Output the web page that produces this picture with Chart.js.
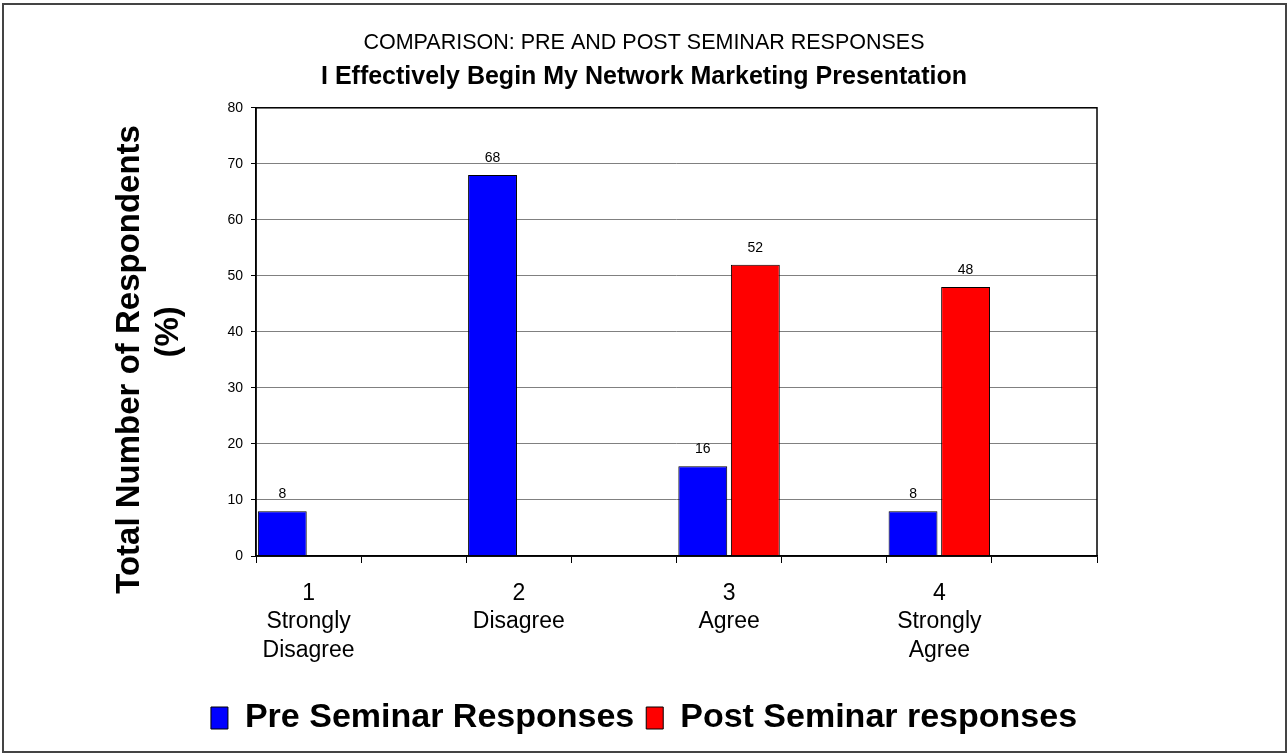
<!DOCTYPE html>
<html>
<head>
<meta charset="utf-8">
<title>Pre and Post Seminar Responses</title>
<script src="https://cdn.jsdelivr.net/npm/chart.js@4.4.0/dist/chart.umd.min.js"></script>
<style>
  html, body { margin: 0; padding: 0; background: #fff; }
  canvas { display: block; }
</style>
</head>
<body>
<canvas id="chart" width="1288" height="755"></canvas>
<script>
const categories = [['1', 'Strongly', 'Disagree'], ['2', 'Disagree'], ['3', 'Agree'], ['4', 'Strongly', 'Agree']];
const preSeminar = [8, 68, 16, 8];
const postSeminar = [0, 0, 52, 48];
const yTicks = [0, 10, 20, 30, 40, 50, 60, 70, 80];

const FONT = 'Arial, "Liberation Sans", sans-serif';
Chart.defaults.font.family = FONT;
Chart.defaults.color = '#000';

// each answer is followed by an empty slot, the bars fill the first one
const labels = [];
const preData = [];
const postData = [];
categories.forEach((c, i) => {
  labels.push(c, '');
  preData.push(preSeminar[i], null);
  postData.push(postSeminar[i], null);
});

// numbers above the bars (zero bars get none)
const valueLabels = {
  id: 'valueLabels',
  afterDatasetsDraw(chart) {
    const ctx = chart.ctx;
    ctx.save();
    ctx.font = '14px ' + FONT;
    ctx.fillStyle = '#000';
    ctx.textAlign = 'center';
    ctx.textBaseline = 'middle';
    chart.data.datasets.forEach((ds, i) => {
      chart.getDatasetMeta(i).data.forEach((bar, j) => {
        const v = ds.data[j];
        if (v) ctx.fillText(v, bar.x, bar.y - 17);
      });
    });
    ctx.restore();
  }
};

// white page, plot frame and the outer border
const frame = {
  id: 'frame',
  beforeDraw(chart) {
    const ctx = chart.ctx;
    ctx.save();
    ctx.fillStyle = '#fff';
    ctx.fillRect(0, 0, chart.width, chart.height);
    ctx.restore();
  },
  afterDraw(chart) {
    const {ctx, chartArea: a} = chart;
    ctx.save();
    ctx.strokeStyle = '#000';
    ctx.lineWidth = 1.5;
    ctx.strokeRect(a.left, a.top, a.right - a.left, a.bottom - a.top);
    ctx.strokeStyle = '#444';
    ctx.lineWidth = 2;
    ctx.strokeRect(3, 4, chart.width - 5, chart.height - 7);
    ctx.restore();
  }
};

new Chart(document.getElementById('chart'), {
  type: 'bar',
  data: {
    labels: labels,
    datasets: [{
      label: 'Pre Seminar Responses',
      data: preData,
      backgroundColor: '#0000ff',
      borderColor: '#000',
      borderWidth: 1,
      barPercentage: 0.93,
      categoryPercentage: 1
    }, {
      label: 'Post Seminar responses',
      data: postData,
      backgroundColor: '#ff0000',
      borderColor: '#000',
      borderWidth: 1,
      barPercentage: 0.93,
      categoryPercentage: 1
    }]
  },
  options: {
    responsive: false,
    animation: false,
    layout: { padding: { left: 0, right: 0, top: 0, bottom: 10 } },
    scales: {
      x: {
        grid: { drawOnChartArea: false, tickLength: 7, color: '#000', offset: true },
        border: { color: '#000', width: 1.5 },
        ticks: {
          autoSkip: false,
          maxRotation: 0,
          padding: 16,
          font: { size: 23, lineHeight: 1.25 }
        },
        afterFit: s => { s.height = 133; }
      },
      y: {
        min: yTicks[0],
        max: yTicks[yTicks.length - 1],
        ticks: { stepSize: yTicks[1] - yTicks[0], padding: 8, font: { size: 14 } },
        grid: { color: '#808080', tickColor: '#000', tickLength: 5 },
        border: { color: '#000', width: 1.5 },
        title: {
          display: true,
          // trailing spaces push the first line a little lower on the axis
          text: ['Total Number of Respondents      ', '(%)'],
          font: { size: 33, weight: 'bold' },
          padding: { top: 110 }
        },
        afterFit: s => { s.width = 256; }
      },
      // empty axis keeping space on the right of the plot
      y2: {
        position: 'right',
        min: yTicks[0],
        max: yTicks[yTicks.length - 1],
        ticks: { display: false },
        grid: { display: false },
        border: { display: false },
        afterFit: s => { s.width = 191; }
      }
    },
    plugins: {
      title: {
        display: true,
        text: 'COMPARISON: PRE AND POST SEMINAR RESPONSES',
        font: { size: 21.5, weight: 'normal' },
        padding: { top: 30, bottom: 6 }
      },
      subtitle: {
        display: true,
        text: 'I Effectively Begin My Network Marketing Presentation',
        font: { size: 25, weight: 'bold' },
        color: '#000',
        padding: { top: 0, bottom: 16 }
      },
      legend: {
        position: 'bottom',
        labels: {
          boxWidth: 17,
          boxHeight: 22,
          padding: 12,
          font: { size: 34, weight: 'bold' }
        }
      },
      tooltip: { enabled: false }
    }
  },
  plugins: [valueLabels, frame]
});
</script>
</body>
</html>
